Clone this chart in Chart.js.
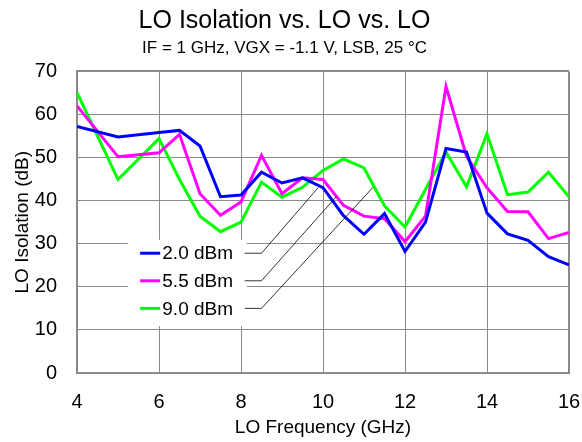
<!DOCTYPE html>
<html>
<head>
<meta charset="utf-8">
<script src="https://cdn.jsdelivr.net/npm/chart.js@4"></script>
<style>
html,body{margin:0;padding:0;background:#fff;}
#wrap{width:582px;height:442px;}
</style>
</head>
<body>
<div id="wrap"><canvas id="c" width="582" height="442"></canvas></div>
<script>
// ---- data ----
const freqGHz = [4, 5, 6, 6.5, 7, 7.5, 8, 8.5, 9, 9.5, 10, 10.5, 11, 11.5, 12, 12.5, 13, 13.5, 14, 14.5, 15, 15.5, 16];
const iso_2p0dBm = [57.2, 54.8, 55.8, 56.3, 52.7, 40.9, 41.3, 46.6, 44.1, 45.3, 43.0, 36.5, 32.2, 37.0, 28.2, 35.0, 52.1, 51.3, 37.1, 32.3, 30.8, 27.0, 25.1];
const iso_5p5dBm = [62.0, 50.2, 51.1, 55.4, 41.6, 36.6, 39.7, 50.5, 41.6, 45.3, 44.9, 38.9, 36.4, 35.8, 30.5, 36.4, 66.5, 50.3, 43.0, 37.5, 37.4, 31.2, 32.6];
const iso_9p0dBm = [65.1, 44.9, 54.4, 44.9, 36.4, 32.8, 35.0, 44.3, 40.8, 43.1, 47.0, 49.7, 47.6, 38.8, 33.9, 42.6, 51.3, 43.2, 55.5, 41.4, 42.0, 46.6, 40.9];
const seriesLabels = ['2.0 dBm', '5.5 dBm', '9.0 dBm'];
const seriesColors = ['#0000ff', '#ff00ff', '#00ff00'];
const xTicks = [4, 6, 8, 10, 12, 14, 16];
const yTicks = [0, 10, 20, 30, 40, 50, 60, 70];

const FONT = '"Liberation Sans", Arial, sans-serif';
const toPts = ys => freqGHz.map((f, i) => ({x: f, y: ys[i]}));
const allSeries = [iso_2p0dBm, iso_5p5dBm, iso_9p0dBm];

// legend layout (in data units, converted through the scales)
const legendBox = {x0: 5.24, x1: 8.14, y0: 30.9, y1: 10.9};
const legendRowsY = [27.8, 21.4, 15.0];
const legendSwatch = {x0: 5.54, x1: 6.03, tx: 6.08};
const leaderDash = {x0: 8.09, x1: 8.50};
const leaderEnds = [{x: 9.88, y: 43.0}, {x: 10.33, y: 41.0}, {x: 11.22, y: 43.1}];

const legendPlugin = {
  id: 'calloutLegend',
  afterDatasetsDraw(chart) {
    const {ctx, scales: {x, y}} = chart;
    ctx.save();
    const bx0 = x.getPixelForValue(legendBox.x0), bx1 = x.getPixelForValue(legendBox.x1);
    const by0 = y.getPixelForValue(legendBox.y0), by1 = y.getPixelForValue(legendBox.y1);
    ctx.fillStyle = '#ffffff';
    ctx.fillRect(bx0, by0, bx1 - bx0, by1 - by0);
    ctx.font = '19px ' + FONT;
    ctx.textBaseline = 'middle';
    ctx.textAlign = 'left';
    legendRowsY.forEach((ry, i) => {
      const py = y.getPixelForValue(ry);
      ctx.strokeStyle = seriesColors[i];
      ctx.lineWidth = 3;
      ctx.beginPath();
      ctx.moveTo(x.getPixelForValue(legendSwatch.x0), py);
      ctx.lineTo(x.getPixelForValue(legendSwatch.x1), py);
      ctx.stroke();
      ctx.fillStyle = '#000';
      ctx.fillText(seriesLabels[i], x.getPixelForValue(legendSwatch.tx), py + 1);
      ctx.strokeStyle = '#000';
      ctx.lineWidth = 0.8;
      ctx.beginPath();
      ctx.moveTo(x.getPixelForValue(leaderDash.x0), py);
      ctx.lineTo(x.getPixelForValue(leaderDash.x1), py);
      ctx.lineTo(x.getPixelForValue(leaderEnds[i].x), y.getPixelForValue(leaderEnds[i].y));
      ctx.stroke();
    });
    ctx.restore();
  }
};

const edgeWidth = (c, lim) => (c.tick && (c.tick.value === lim[0] || c.tick.value === lim[1])) ? 2 : 1;

new Chart(document.getElementById('c'), {
  type: 'line',
  data: {
    datasets: allSeries.map((s, i) => ({
      label: seriesLabels[i],
      data: toPts(s),
      borderColor: seriesColors[i],
      backgroundColor: seriesColors[i],
      borderWidth: 3,
      pointRadius: 0,
      tension: 0,
      fill: false
    }))
  },
  options: {
    responsive: false,
    animation: false,
    layout: {padding: {left: 0, right: 13, top: 0, bottom: 0}},
    plugins: {
      legend: {display: false},
      tooltip: {enabled: false},
      title: {
        display: true,
        text: 'LO Isolation vs. LO vs. LO',
        color: '#000',
        font: {family: FONT, size: 25, weight: 'normal'},
        padding: {top: 6, bottom: 0}
      },
      subtitle: {
        display: true,
        text: 'IF = 1 GHz, VGX = -1.1 V, LSB, 25 °C',
        color: '#000',
        font: {family: FONT, size: 17, weight: 'normal'},
        padding: {top: 2, bottom: 13}
      }
    },
    scales: {
      x: {
        type: 'linear',
        min: 4, max: 16,
        afterFit(s) { s.height = 69; s.paddingLeft = 0; s.paddingRight = 0; },
        afterBuildTicks(s) { s.ticks = xTicks.map(v => ({value: v})); },
        ticks: {color: '#000', font: {family: FONT, size: 20}, padding: 17, maxRotation: 0},
        grid: {color: '#8a8a8a', lineWidth: c => edgeWidth(c, [4, 16]), drawTicks: false},
        border: {display: true, color: '#8a8a8a', width: 2},
        title: {display: true, text: 'LO Frequency (GHz)', color: '#000', font: {family: FONT, size: 19}, padding: {top: 0, bottom: 3}}
      },
      y: {
        min: 0, max: 70,
        afterFit(s) { s.width = 77; s.paddingTop = 0; s.paddingBottom = 0; },
        afterBuildTicks(s) { s.ticks = yTicks.map(v => ({value: v})); },
        ticks: {color: '#000', font: {family: FONT, size: 20}, padding: 20},
        grid: {color: '#8a8a8a', lineWidth: c => edgeWidth(c, [0, 70]), drawTicks: false},
        border: {display: true, color: '#8a8a8a', width: 2},
        title: {display: true, text: 'LO Isolation (dB)', color: '#000', font: {family: FONT, size: 19}, padding: {top: 11, bottom: 0}}
      }
    }
  },
  plugins: [legendPlugin]
});
</script>
</body>
</html>
